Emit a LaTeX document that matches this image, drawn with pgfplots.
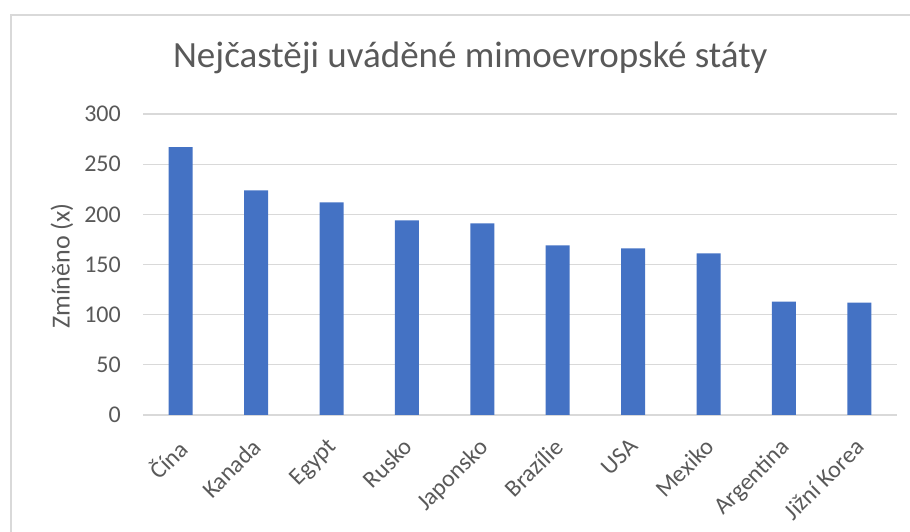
\documentclass[border=0pt]{standalone}
\usepackage{pgfplots}
\pgfplotsset{compat=1.18}
\usepackage{fontspec}
\setmainfont{Carlito}
\definecolor{barblue}{HTML}{4472C4}
\definecolor{txtgray}{HTML}{595959}
\definecolor{gridgray}{HTML}{D9D9D9}
\begin{document}
\begin{tikzpicture}[x=1pt,y=1pt]
\useasboundingbox (0,0) rectangle (910,532);
\draw[gridgray, line width=1.3pt] (11,-5) -- (11,517) -- (915,517);
\begin{axis}[
  at={(143pt,117pt)}, anchor=south west,
  scale only axis,
  width=754pt, height=301pt,
  xmin=-0.5, xmax=9.5,
  ymin=0, ymax=300,
  ytick={0,50,...,300},
  xtick={0,...,9},
  xticklabels={Čína,Kanada,Egypt,Rusko,Japonsko,Brazílie,USA,Mexiko,Argentina,Jižní Korea},
  separate axis lines,
  axis x line*=bottom,
  axis y line*=left,
  x axis line style={gridgray, line width=1.2pt, -},
  y axis line style={draw=none},
  major tick length=0pt,
  ymajorgrids,
  grid style={gridgray, line width=1.2pt},
  /pgf/number format/assume math mode=true,
  tick label style={font=\fontsize{24}{26}\selectfont, text=txtgray},
  yticklabel style={anchor=east, inner sep=0pt, xshift=-22pt},
  xticklabel style={rotate=45, anchor=north east, inner sep=2pt, xshift=-3.5pt, yshift=3.5pt},
  xticklabel shift=19pt,
  title={Nejčastěji uváděné mimoevropské státy},
  title style={at={(0.434,1)}, anchor=base, yshift=40pt, font=\fontsize{37}{40}\selectfont, text=txtgray},
  ylabel={Zmíněno (x)},
  ylabel style={at={(axis description cs:-0.1074,0.495)}, anchor=center, font=\fontsize{26}{28}\selectfont, text=txtgray},
]
\addplot[ybar, bar width=24pt, fill=barblue, draw=none] coordinates {
(0,267) (1,224) (2,212) (3,194) (4,191) (5,169) (6,166) (7,161) (8,113) (9,112)
};
\end{axis}
\end{tikzpicture}
\end{document}
